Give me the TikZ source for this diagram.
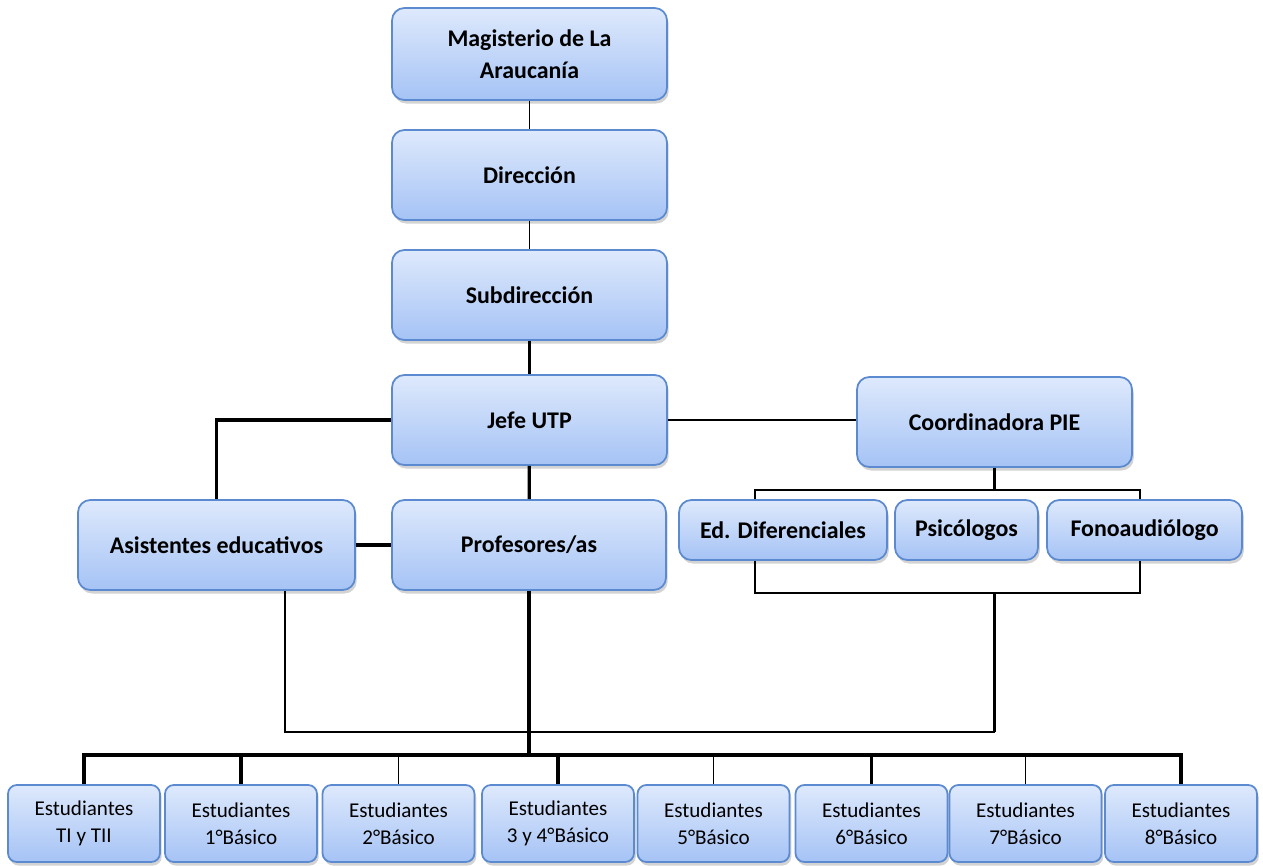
\documentclass[tikz,border=0pt]{standalone}
\usepackage{fontspec}
\setmainfont{Carlito}
\usepackage{tikz}
\usetikzlibrary{shadows}
\definecolor{CajaBorde}{HTML}{5B8AD0}
\definecolor{CajaArriba}{HTML}{DEE9FC}
\definecolor{CajaAbajo}{HTML}{A5C3F5}
\tikzset{
  Caja/.style={draw=CajaBorde, line width=1pt, rounded corners=#1,
    top color=CajaArriba, bottom color=CajaAbajo, align=center,
    drop shadow={shadow xshift=1pt, shadow yshift=-2pt, opacity=.35}}, % Cajas del organigrama
  Jefatura/.style={Caja=7pt, font=\fontsize{13.6}{18}\selectfont\bfseries},
  Curso/.style={Caja=5pt, minimum width=3.04cm, minimum height=1.54cm,
    font=\fontsize{12}{15.5}\selectfont},
  Fino/.style={line width=0.9pt},   % lineas delgadas
  Medio/.style={line width=1.3pt},  % lineas medianas
  Grueso/.style={line width=1.8pt}  % lineas gruesas
}

\begin{document}
\begin{tikzpicture}[
x=0.02cm, y=-0.02cm,
>=latex
]
\useasboundingbox (0,0) rectangle (1263,865);

%Cajas
\node[Jefatura, minimum width=5.5cm, minimum height=1.84cm] (Mag) at (529.5,54) {Magisterio de La\\Araucanía};
\node[Jefatura, minimum width=5.5cm, minimum height=1.8cm] (Dir) at (529.5,175) {Dirección};
\node[Jefatura, minimum width=5.5cm, minimum height=1.8cm] (Sub) at (529.5,295) {Subdirección};
\node[Jefatura, minimum width=5.5cm, minimum height=1.8cm] (Jefe) at (529.5,420) {Jefe UTP};
\node[Jefatura, minimum width=5.5cm, minimum height=1.8cm] (PIE) at (994.5,422) {Coordinadora PIE};

\node[Jefatura, minimum width=5.54cm, minimum height=1.8cm] (Asis) at (216.5,545) {Asistentes educativos};
\node[Jefatura, minimum width=5.48cm, minimum height=1.8cm] (Prof) at (529,545) {Profesores/as};

\node[Jefatura, minimum width=4.16cm, minimum height=1.2cm] (EdD) at (783,530) {Ed. Diferenciales};
\node[Jefatura, minimum width=2.86cm, minimum height=1.2cm] (Psi) at (966.5,530) {Psicólogos};
\node[Jefatura, minimum width=3.9cm, minimum height=1.2cm] (Fono) at (1144.5,530) {Fonoaudiólogo};

\foreach \x/\n/\t in {84/1/{TI y TII}, 241/2/{1°Básico}, 398.5/3/{2°Básico},
  558/4/{3 y 4°Básico}, 713.5/5/{5°Básico}, 871.5/6/{6°Básico},
  1025.5/7/{7°Básico}, 1181/8/{8°Básico}}
  \node[Curso] (E\n) at (\x,823.5) {Estudiantes\\\t};

%Puntos de apoyo
\coordinate (Arriba) at (0,490);
\coordinate (Abajo) at (0,593);
\coordinate (Recoge) at (0,732);
\coordinate (Bus) at (0,755);

%Lineas
\draw[Fino] (Mag) -- (Dir);
\draw[Fino] (Dir) -- (Sub);
\draw[Grueso] (Sub) -- (Jefe);
\draw[Grueso] (Jefe) -- (Prof);
\draw[Grueso] (Jefe.west) -| (Asis.north);
\draw[Fino] (Jefe.east) -- (Jefe.east -| PIE.west);
\draw[Grueso] (Asis.east) -- (Asis.east -| Prof.west);

\draw[Grueso] (PIE.south) -- (PIE.south |- Arriba);
\draw[Fino] ([xshift=-0.56cm]EdD.north) |- ([xshift=-0.09cm]Fono.north |- Arriba) -- ([xshift=-0.09cm]Fono.north);
\draw[Medio] ([xshift=-0.56cm]EdD.south) |- ([xshift=-0.09cm]Fono.south |- Abajo) -- ([xshift=-0.09cm]Fono.south);

\draw[Medio] (PIE.south |- Abajo) -- (PIE.south |- Recoge);
\draw[Medio] ([xshift=1.37cm]Asis.south) |- (PIE.south |- Recoge);
\draw[Grueso] (Prof.south) -- (Prof.south |- Bus);

\draw[Grueso] (E1.north) -- (E1.north |- Bus) -- (E8.north |- Bus) -- (E8.north);
\foreach \n/\s in {2/Grueso, 3/Fino, 4/Grueso, 5/Fino, 6/Grueso, 7/Fino}
  \draw[\s] (E\n.north) -- (E\n.north |- Bus);

\end{tikzpicture}
\end{document}
